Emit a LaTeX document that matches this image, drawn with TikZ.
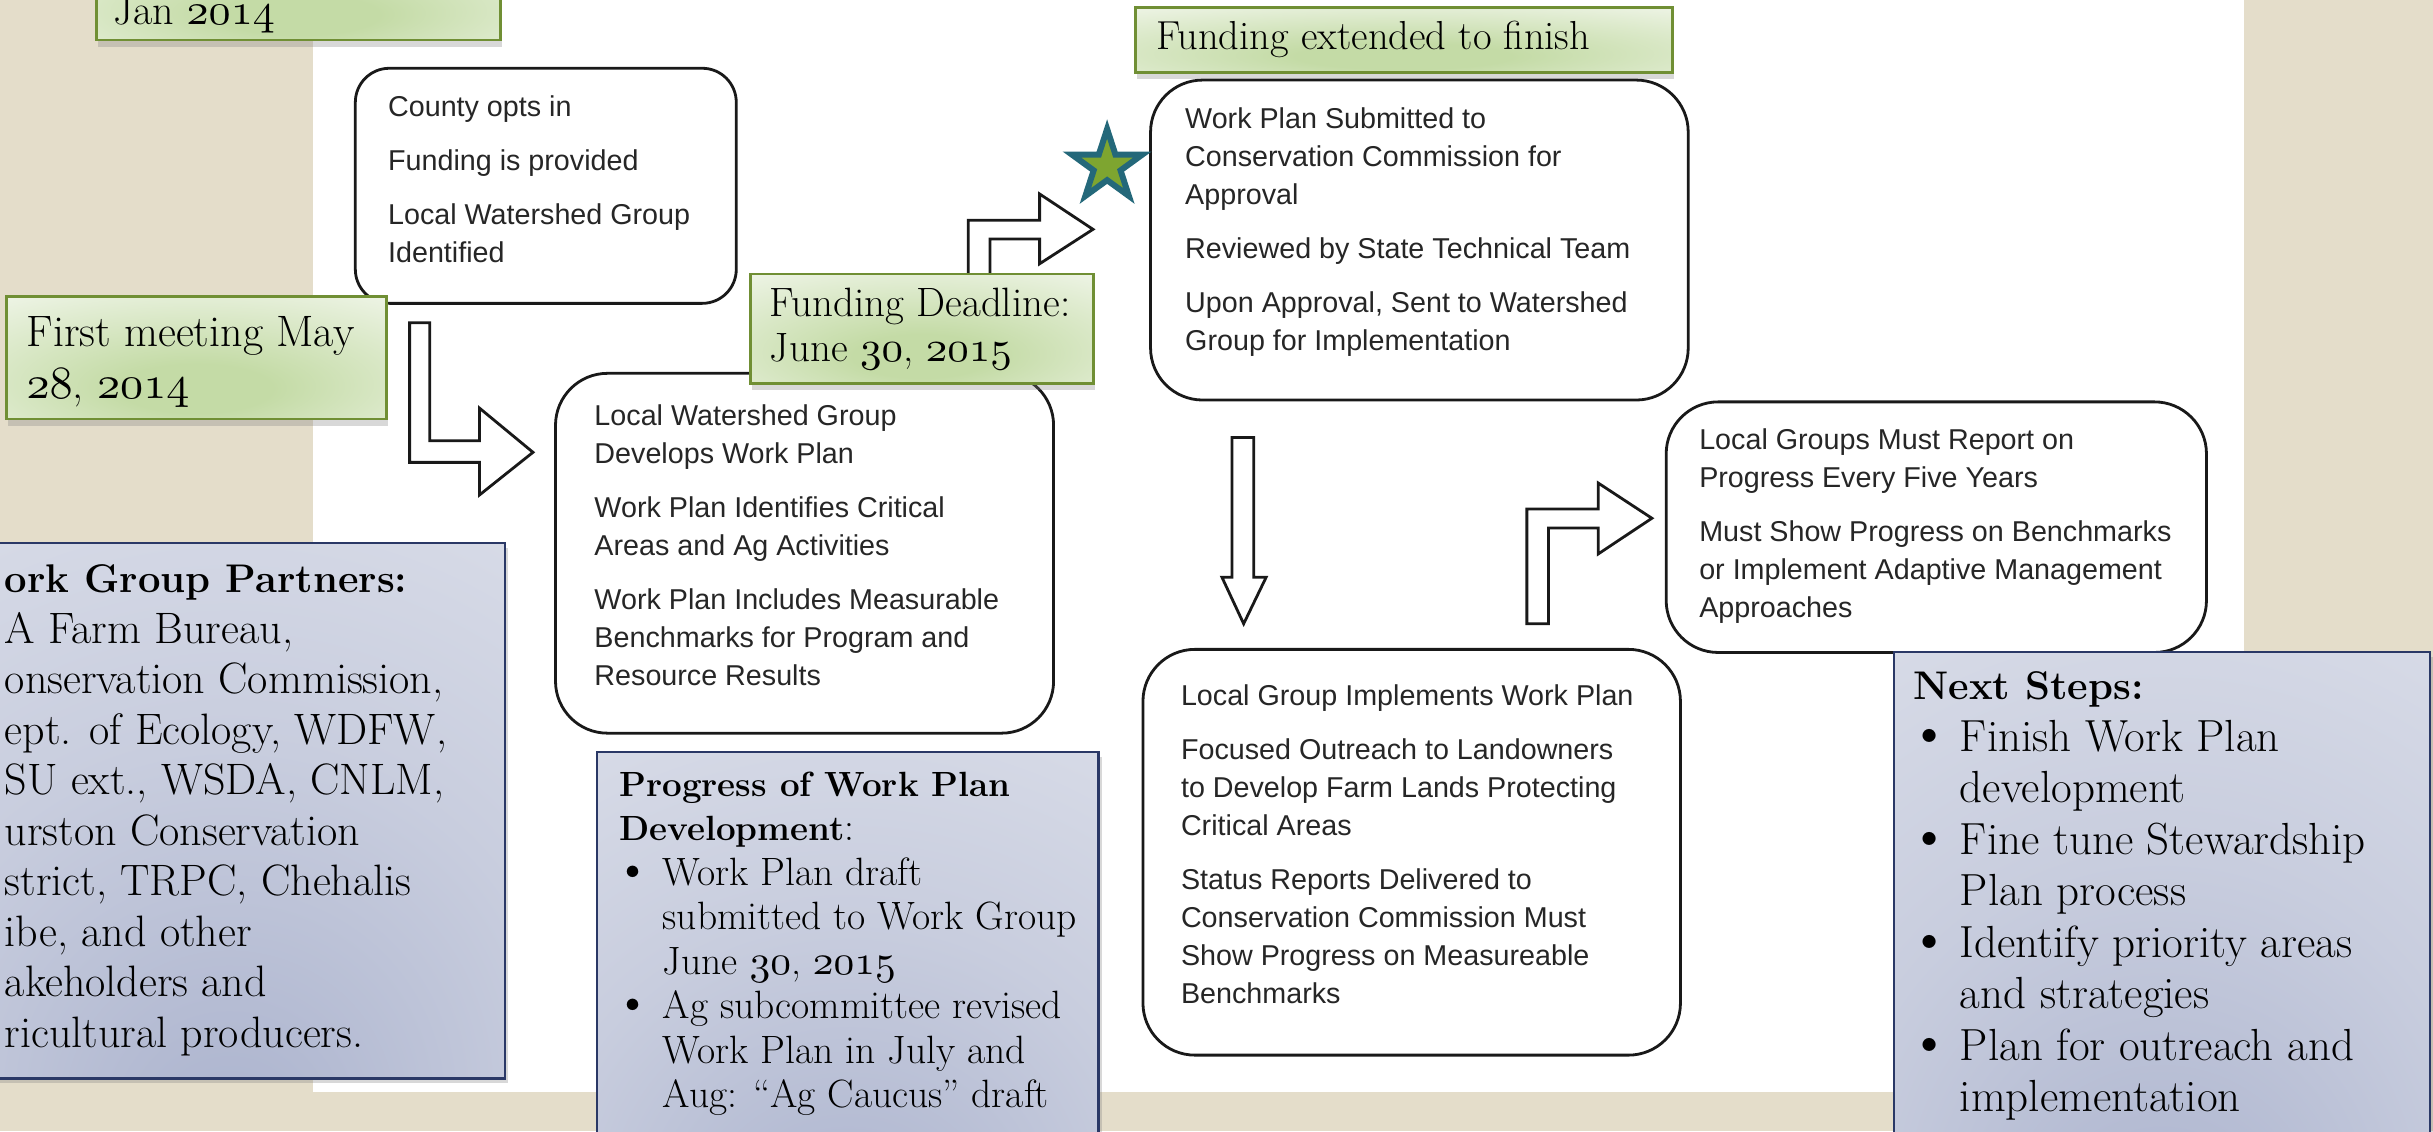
\documentclass[tikz,border=0pt]{standalone}
\usepackage{fontspec}
\newfontfamily\sansbox{Liberation Sans}
\usetikzlibrary{shadows,fit,shapes.geometric}
\definecolor{beige}{RGB}{228,221,202}
\definecolor{greenborder}{RGB}{112,143,52}
\definecolor{greenmid}{RGB}{196,219,166}
\definecolor{greenlight}{RGB}{246,249,242}
\definecolor{bluetop}{RGB}{234,236,242}
\definecolor{bluemid}{RGB}{200,205,222}
\definecolor{bluebottom}{RGB}{170,178,205}
\definecolor{blueborder}{RGB}{42,56,102}
\definecolor{starfill}{RGB}{126,165,48}
\definecolor{stardraw}{RGB}{36,104,122}
\definecolor{flowtext}{RGB}{38,38,38}
\definecolor{flowline}{RGB}{25,25,25}
\pgfdeclareradialshading{greenglow}{\pgfpoint{0bp}{-14bp}}{color(0bp)=(greenmid); color(10bp)=(greenmid); color(48bp)=(greenlight); color(100bp)=(greenlight)}
\pgfdeclareradialshading{blueglow}{\pgfpoint{0bp}{-32bp}}{color(0bp)=(bluebottom); color(30bp)=(bluemid); color(78bp)=(bluetop); color(120bp)=(bluetop)}
\DeclareFontFamily{OML}{osnum}{\skewchar\font=127 }
\DeclareFontShape{OML}{osnum}{m}{it}{<-> s * [1.05] cmmi10}{}
\newcommand\osn[1]{{\fontencoding{OML}\fontfamily{osnum}\fontseries{m}\fontshape{it}\selectfont #1}}
\newcommand\bitem[2]{\makebox[#1][l]{\hspace*{#2}\scalebox{1.3}{\textbullet}}}
\tikzset{
  flowbox/.style={draw=flowline, line width=2.8pt, rounded corners=52pt, inner sep=0pt, fill=white},
  greenbox/.style={draw=greenborder, line width=2.8pt, inner sep=0pt, shading=greenglow, drop shadow={shadow xshift=2pt, shadow yshift=-7pt, opacity=0.3}},
  bluebox/.style={draw=blueborder, line width=2.2pt, inner sep=0pt, shading=blueglow, drop shadow={shadow xshift=3pt, shadow yshift=-5pt, opacity=0.3}},
  flowtxt/.style={anchor=base west, inner sep=0pt, text=flowtext, font=\sansbox\fontsize{28.7}{38}\selectfont},
  notetxt/.style={anchor=base west, inner sep=0pt, text=black},
  blockarrow/.style={draw=flowline, line width=2.8pt, fill=white, line join=miter},
}
\begin{document}
\begin{tikzpicture}[x=1.5517pt,y=-1.5517pt]
\useasboundingbox (0,0) rectangle (1568,729);
\clip (0,0) rectangle (1568,729);
% background
\fill[beige] (0,0) rectangle (1568,729);
\fill[white] (202,0) rectangle (1446,704);

% Work group partners (cut by the left edge, as in the reference)
\node[bluebox, fit={(-30,350)(325.5,695)}] (partners) {};
\node[notetxt, font=\fontsize{44}{50.5}\selectfont] (partnerstext) at (3,382)
  {\begin{tabular}[t]{@{}l@{}}{\fontsize{40}{50.5}\selectfont\bfseries ork Group Partners:}\\A Farm Bureau,\\onservation Commission,\\ept. of Ecology, WDFW,\\SU ext., WSDA, CNLM,\\urston Conservation\\strict, TRPC, Chehalis\\ibe, and other\\akeholders and\\ricultural producers.\end{tabular}};

% flow boxes
\node[flowbox, rounded corners=34pt, fit={(229,44)(474.5,195.5)}] (optsin) {};
\node[flowtxt] (optsintext) at (250,75)
  {\begin{tabular}[t]{@{}l@{}}County opts in\\[16pt]Funding is provided\\[16pt]Local Watershed Group\\Identified\end{tabular}};

\node[flowbox, fit={(358,240.6)(679,472.5)}] (develops) {};
\node[flowtxt] (developstext) at (383,274)
  {\begin{tabular}[t]{@{}l@{}}Local Watershed Group\\Develops Work Plan\\[16pt]Work Plan Identifies Critical\\Areas and Ag Activities\\[16pt]Work Plan Includes Measurable\\Benchmarks for Program and\\Resource Results\end{tabular}};

\node[flowbox, fit={(741.5,51.6)(1088,257.8)}] (submitted) {};
\node[flowtxt] (submittedtext) at (763.7,82.7)
  {\begin{tabular}[t]{@{}l@{}}Work Plan Submitted to\\Conservation Commission for\\Approval\\[16pt]Reviewed by State Technical Team\\[16pt]Upon Approval, Sent to Watershed\\Group for Implementation\end{tabular}};

\node[flowbox, fit={(736.6,418.5)(1083,680)}] (implements) {};
\node[flowtxt] (implementstext) at (761,454.6)
  {\begin{tabular}[t]{@{}l@{}}Local Group Implements Work Plan\\[16pt]Focused Outreach to Landowners\\to Develop Farm Lands Protecting\\Critical Areas\\[16pt]Status Reports Delivered to\\Conservation Commission Must\\Show Progress on Measureable\\Benchmarks\end{tabular}};

\node[flowbox, fit={(1073.8,259)(1422,420.5)}] (report) {};
\node[flowtxt] (reporttext) at (1095,290)
  {\begin{tabular}[t]{@{}l@{}}Local Groups Must Report on\\Progress Every Five Years\\[16pt]Must Show Progress on Benchmarks\\or Implement Adaptive Management\\Approaches\end{tabular}};

% block arrows
\draw[blockarrow] (264,208) -- (277,208) -- (277,284) -- (309,284) -- (309,263)
  -- (343.5,291.5) -- (309,319) -- (309,298) -- (264,298) -- cycle;
\draw[blockarrow] (624,182) -- (624,142) -- (670,142) -- (670,125)
  -- (704.4,147.8) -- (670,170) -- (670,154) -- (638,154) -- (638,182) -- cycle;
\draw[blockarrow] (794,282) -- (808,282) -- (808,372) -- (816,372)
  -- (801.5,402) -- (787.5,372) -- (794,372) -- cycle;
\draw[blockarrow] (984,402) -- (984,328) -- (1030,328) -- (1030,311.3)
  -- (1064.6,334) -- (1030,357) -- (1030,340.3) -- (998,340.3) -- (998,402) -- cycle;

% green call-outs
\node[greenbox, fit={(62,-40)(322.5,25.8)}] (jan) {};
\node[notetxt, font=\fontsize{42}{51}\selectfont] (jantext) at (73,16) {Jan \osn{2014}};

\node[greenbox, fit={(4,191)(249,270)}] (firstmeeting) {};
\node[notetxt, font=\fontsize{44}{51.5}\selectfont] (firstmeetingtext) at (17,223.5)
  {\begin{tabular}[t]{@{}l@{}}First meeting May\\\osn{28}, \osn{2014}\end{tabular}};

\node[greenbox, fit={(483.5,176.6)(704.5,247)}] (deadline) {};
\node[notetxt, font=\fontsize{41}{45}\selectfont] (deadlinetext) at (496,204)
  {\begin{tabular}[t]{@{}l@{}}Funding Deadline:\\June \osn{30}, \osn{2015}\end{tabular}};

\node[greenbox, fit={(731.6,4.7)(1077.7,46.6)}] (extended) {};
\node[notetxt, font=\fontsize{40.5}{45}\selectfont] (extendedtext) at (745,32.2) {Funding extended to finish};

% progress box
\node[bluebox, fit={(385,484.7)(708,770)}] (progress) {};
\node[notetxt, font=\fontsize{39.5}{44.5}\selectfont] (progresstext) at (399,513)
  {\begin{tabular}[t]{@{}l@{}}{\fontsize{35}{44.5}\selectfont\bfseries Progress of Work Plan}\\{\fontsize{35}{44.5}\selectfont\bfseries Development}:\\\bitem{43.4pt}{-5pt}Work Plan draft\\\hspace*{43.4pt}submitted to Work Group\\\hspace*{43.4pt}June \osn{30}, \osn{2015}\\\bitem{43.4pt}{-5pt}Ag subcommittee revised\\\hspace*{43.4pt}Work Plan in July and\\\hspace*{43.4pt}Aug: “Ag Caucus” draft\end{tabular}};

% next steps box
\node[bluebox, fit={(1220.6,420)(1566,770)}] (nextsteps) {};
\node[notetxt, font=\fontsize{45}{51.5}\selectfont] (nextstepstext) at (1233,451)
  {\begin{tabular}[t]{@{}l@{}}{\fontsize{40}{51.5}\selectfont\bfseries Next Steps:}\\\bitem{46.5pt}{-5.3pt}Finish Work Plan\\\hspace*{46.5pt}development\\\bitem{46.5pt}{-5.3pt}Fine tune Stewardship\\\hspace*{46.5pt}Plan process\\\bitem{46.5pt}{-5.3pt}Identify priority areas\\\hspace*{46.5pt}and strategies\\\bitem{46.5pt}{-5.3pt}Plan for outreach and\\\hspace*{46.5pt}implementation\end{tabular}};

% star
\node[star, star points=5, star point ratio=2.618, minimum size=74pt, inner sep=0pt,
  draw=stardraw, fill=starfill, line width=6pt] (star) at (713.5,107) {};
\end{tikzpicture}
\end{document}
